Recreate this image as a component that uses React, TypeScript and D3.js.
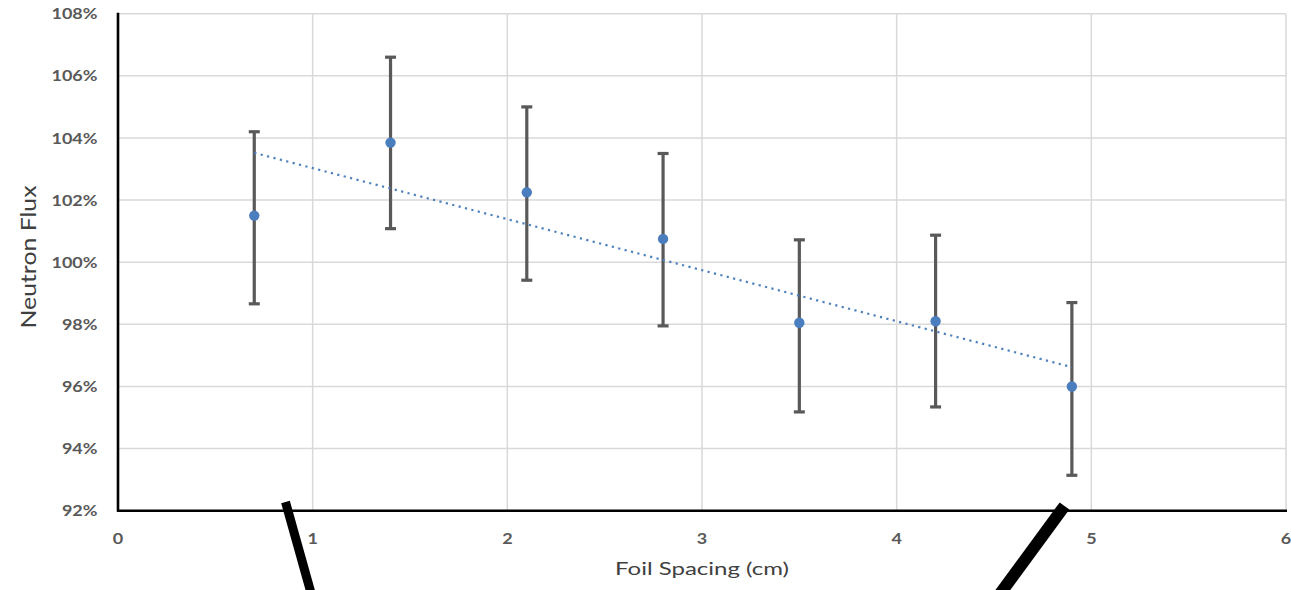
import React from "react";
import * as d3 from "d3";

// ---- data ----
const spacing = [0.7, 1.4, 2.1, 2.8, 3.5, 4.2, 4.9];
const flux = [101.5, 103.85, 102.25, 100.75, 98.05, 98.1, 96.0];
const fluxHigh = [104.2, 106.6, 105.0, 103.5, 100.72, 100.87, 98.7];
const fluxLow = [98.66, 101.08, 99.42, 97.95, 95.18, 95.34, 93.14];
const xTicks = [0, 1, 2, 3, 4, 5, 6];
const yTicks = [92, 94, 96, 98, 100, 102, 104, 106, 108];
const xTitle = "Foil Spacing (cm)";
const yTitle = "Neutron Flux";

// overlay annotation strokes (pixel space, not data)
const overlayStrokes = [
  { x1: 285.5, y1: 502, x2: 313, y2: 600, w: 9 },
  { x1: 1064.5, y1: 506, x2: 995.5, y2: 600, w: 12 },
];

const W = 1291;
const H = 590;
const left = 118;
const right = 1286;
const top = 13.7;
const bottom = 510.7;

export default function App() {
  const x = d3.scaleLinear().domain([0, 6]).range([left, right]);
  const y = d3.scaleLinear().domain([92, 108]).range([bottom, top]);

  // linear regression trendline
  const mx = d3.mean(spacing)!;
  const my = d3.mean(flux)!;
  const sxy = d3.sum(spacing.map((v, i) => (v - mx) * (flux[i] - my)));
  const sxx = d3.sum(spacing.map((v) => (v - mx) * (v - mx)));
  const slope = sxy / sxx;
  const icpt = my - slope * mx;
  const x0 = d3.min(spacing)!;
  const x1 = d3.max(spacing)!;
  const trend = d3.line<number>()
    .x((d) => x(d))
    .y((d) => y(icpt + slope * d))([x0, x1]);

  const tickFont = "Lato, 'Open Sans', sans-serif";
  const fmt = (v: number) => `${v}%`;

  return (
    <svg
      width={W}
      height={H}
      style={{ position: "absolute", left: 0, top: 0, background: "#fff" }}
    >
      <rect x={0} y={0} width={W} height={H} fill="#fff" />
      {/* gridlines */}
      <g stroke="#d9d9d9" strokeWidth={1.5}>
        {yTicks.map((t) => (
          <line key={"gy" + t} x1={left} x2={right} y1={y(t)} y2={y(t)} />
        ))}
        {xTicks.map((t) => (
          <line key={"gx" + t} x1={x(t)} x2={x(t)} y1={top} y2={bottom} />
        ))}
      </g>
      {/* axes */}
      <line x1={left} x2={left} y1={top - 1} y2={bottom + 1} stroke="#000" strokeWidth={2.6} />
      <line x1={left - 1} x2={right + 1} y1={bottom} y2={bottom} stroke="#000" strokeWidth={2.6} />

      {/* y tick labels */}
      <g fill="#595959" fontFamily={tickFont} fontWeight={700} fontSize={15.5}>
        {yTicks.map((t) => (
          <text
            key={"ty" + t}
            transform={`translate(${97.5},${y(t) + 5.6}) scale(1.16,1)`}
            textAnchor="end"
          >
            {fmt(t)}
          </text>
        ))}
        {xTicks.map((t) => (
          <text
            key={"tx" + t}
            transform={`translate(${x(t)},${544}) scale(1.16,1)`}
            textAnchor="middle"
          >
            {t}
          </text>
        ))}
      </g>

      {/* titles */}
      <text
        x={(left + right) / 2}
        y={575}
        textAnchor="middle"
        fontFamily={tickFont}
        fontSize={17.5}
        fill="#404040"
        textLength={174}
        lengthAdjust="spacingAndGlyphs"
      >
        {xTitle}
      </text>
      <text
        transform={`translate(36,257) rotate(-90)`}
        textAnchor="middle"
        fontFamily={tickFont}
        fontSize={22}
        fill="#404040"
        textLength={143}
        lengthAdjust="spacingAndGlyphs"
      >
        {yTitle}
      </text>

      {/* error bars */}
      <g stroke="#595959" strokeWidth={3.2}>
        {spacing.map((s, i) => (
          <g key={"e" + i}>
            <line x1={x(s)} x2={x(s)} y1={y(fluxHigh[i])} y2={y(fluxLow[i])} />
            <line x1={x(s) - 5.5} x2={x(s) + 5.5} y1={y(fluxHigh[i])} y2={y(fluxHigh[i])} />
            <line x1={x(s) - 5.5} x2={x(s) + 5.5} y1={y(fluxLow[i])} y2={y(fluxLow[i])} />
          </g>
        ))}
      </g>

      {/* trendline */}
      <path
        d={trend || ""}
        fill="none"
        stroke="#4f81bd"
        strokeWidth={2.2}
        strokeDasharray="2.2 4.4"
      />

      {/* points */}
      <g fill="#4a7ebf">
        {spacing.map((s, i) => (
          <circle key={"p" + i} cx={x(s)} cy={y(flux[i])} r={5.2} />
        ))}
      </g>

      {/* overlay annotation strokes */}
      <g stroke="#000">
        {overlayStrokes.map((o, i) => (
          <line key={"o" + i} x1={o.x1} y1={o.y1} x2={o.x2} y2={o.y2} strokeWidth={o.w} />
        ))}
      </g>
    </svg>
  );
}
